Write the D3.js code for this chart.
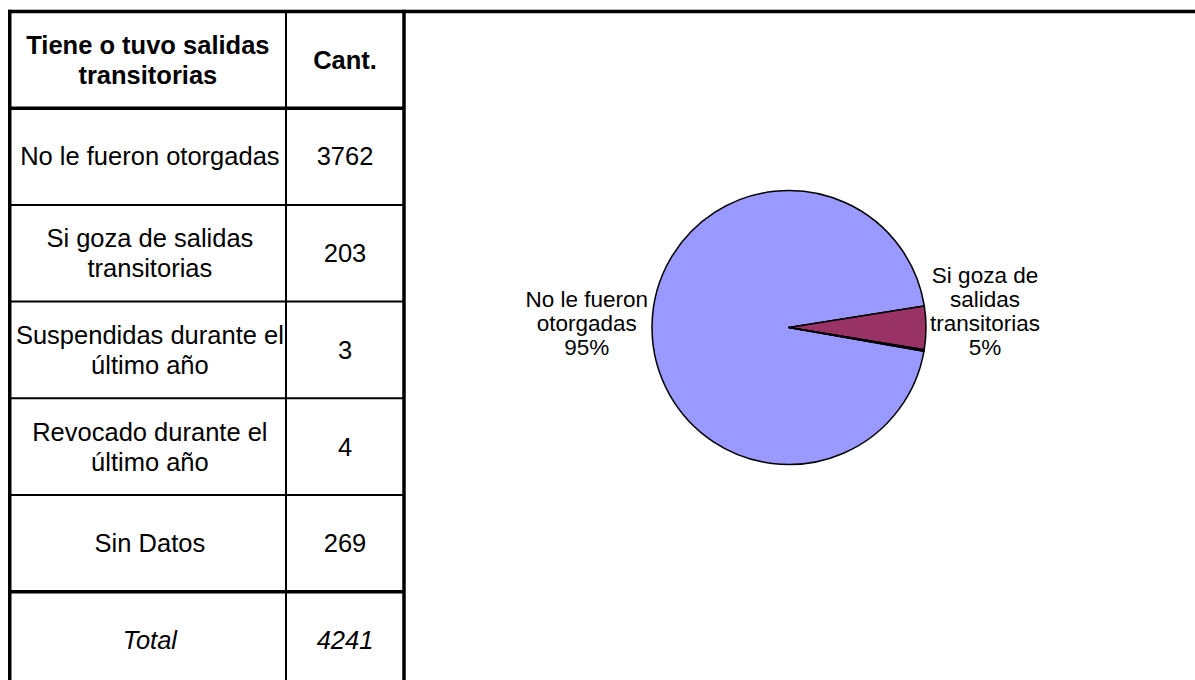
<!DOCTYPE html>
<html>
<head>
<meta charset="utf-8">
<script src="https://cdn.jsdelivr.net/npm/d3@7"></script>
<style>
  body { margin: 0; background: #fff; }
  svg { display: block; font-family: 'Liberation Sans', Arial, sans-serif; }
</style>
</head>
<body>
<svg id="chart"></svg>
<script>
// table rows and counts
const categories = [
  'No le fueron otorgadas',
  'Si goza de salidas transitorias',
  'Suspendidas durante el último año',
  'Revocado durante el último año',
  'Sin Datos'
];
const counts = [3762, 203, 3, 4, 269];
const total = 4241;
// line breaks as in the table cells
const tableLines = [
  ['No le fueron otorgadas'],
  ['Si goza de salidas', 'transitorias'],
  ['Suspendidas durante el', 'último año'],
  ['Revocado durante el', 'último año'],
  ['Sin Datos']
];
const headerLines = ['Tiene o tuvo salidas', 'transitorias'];
const headerCount = 'Cant.';
// the pie leaves out "Sin Datos"
const pieCategories = categories.slice(0, 4);
const pieValues = counts.slice(0, 4);
const pieLabelLines = [
  ['No le fueron', 'otorgadas'],
  ['Si goza de', 'salidas', 'transitorias'],
  ['Suspendidas', 'durante el', 'último año'],
  ['Revocado', 'durante el', 'último año']
];
const pieColors = ['#9999FF', '#993366', '#FFFFCC', '#CCFFFF'];

const W = 1195, H = 680;
const svg = d3.select('#chart').attr('width', W).attr('height', H);

// ---- table ----
const tableTop = 11.5;
const rowH = 96.7;
const rowKeys = ['header'].concat(categories).concat(['total']);
const y = d3.scaleBand()
  .domain(rowKeys)
  .range([tableTop, tableTop + rowKeys.length * rowH]);

const colLeft = 9.75, colMid = 286, colRight = 404;
const col1 = (colLeft + colMid) / 2 + 2;
const col2 = (colMid + colRight) / 2;
const tFont = 25.5, tLine = 30;

const table = svg.append('g').attr('class', 'table');

function cellText(lines, cx, cy, opts) {
  const t = table.append('text')
    .attr('text-anchor', 'middle')
    .attr('font-size', tFont)
    .attr('fill', '#000')
    .attr('font-weight', opts && opts.bold ? 'bold' : null)
    .attr('font-style', opts && opts.italic ? 'italic' : null);
  const off = (lines.length - 1) * tLine / 2;
  lines.forEach((l, i) => {
    t.append('tspan')
      .attr('x', cx)
      .attr('y', cy - off + i * tLine + tFont * 0.35)
      .text(l);
  });
}

const mid = k => y(k) + y.bandwidth() / 2;

cellText(headerLines, col1 - 2, mid('header'), { bold: true });
cellText([headerCount], col2, mid('header'), { bold: true });
categories.forEach((c, i) => {
  cellText(tableLines[i], col1, mid(c));
  cellText([String(counts[i])], col2, mid(c));
});
cellText(['Total'], col1, mid('total'), { italic: true });
cellText([String(total)], col2, mid('total'), { italic: true });

// horizontal rules
const rules = table.append('g').attr('stroke', '#000');
categories.slice(1).forEach(c => {
  rules.append('line')
    .attr('x1', colLeft).attr('x2', colRight)
    .attr('y1', y(c)).attr('y2', y(c))
    .attr('stroke-width', 2);
});
[categories[0], 'total'].forEach(k => {
  rules.append('line')
    .attr('x1', colLeft).attr('x2', colRight)
    .attr('y1', y(k)).attr('y2', y(k))
    .attr('stroke-width', 3.5);
});
// top line runs across the whole sheet
rules.append('line')
  .attr('x1', colLeft - 1.75).attr('x2', W)
  .attr('y1', tableTop).attr('y2', tableTop)
  .attr('stroke-width', 3.5);
// verticals
rules.append('line')
  .attr('x1', colMid).attr('x2', colMid)
  .attr('y1', tableTop).attr('y2', H)
  .attr('stroke-width', 2);
[colLeft, colRight].forEach(x => {
  rules.append('line')
    .attr('x1', x).attr('x2', x)
    .attr('y1', tableTop - 1.75).attr('y2', H)
    .attr('stroke-width', 3.5);
});

// ---- pie ----
const cx = 789, cy = 327.5, r = 137;
const sum = d3.sum(pieValues);
const startA = 100 * Math.PI / 180;
const pie = d3.pie().sort(null).startAngle(startA).endAngle(startA + 2 * Math.PI);
const arcs = pie(pieValues);
const arc = d3.arc().innerRadius(0).outerRadius(r);

const pg = svg.append('g').attr('transform', `translate(${cx},${cy})`);
pg.selectAll('path')
  .data(arcs)
  .enter().append('path')
  .attr('d', arc)
  .attr('fill', (d, i) => pieColors[i])
  .attr('stroke', '#000')
  .attr('stroke-width', 1.5)
  .attr('stroke-linejoin', 'round');

// labels only for slices that round to at least 1%
const lFont = 22.5, lLine = 24;
arcs.forEach((d, i) => {
  const pct = Math.round(pieValues[i] / sum * 100);
  if (pct < 1) return;
  const lines = pieLabelLines[i].concat([pct + '%']);
  const a = (d.startAngle + d.endAngle) / 2;
  const right = Math.sin(a) > 0;
  const t = pg.append('text')
    .attr('text-anchor', 'middle')
    .attr('font-size', lFont)
    .attr('fill', '#000');
  lines.forEach((l, j) => {
    t.append('tspan').attr('x', 0).attr('y', j * lLine).text(l);
  });
  const bb = t.node().getBBox();
  const edge = (r + 4) * Math.sin(a);
  const tx = right ? edge + bb.width / 2 : edge - bb.width / 2;
  // last line sits a little below the centre, as Excel does
  const ty = 27.5 - (lines.length - 1) * lLine;
  t.attr('transform', `translate(${tx},${ty})`);
});
</script>
</body>
</html>
